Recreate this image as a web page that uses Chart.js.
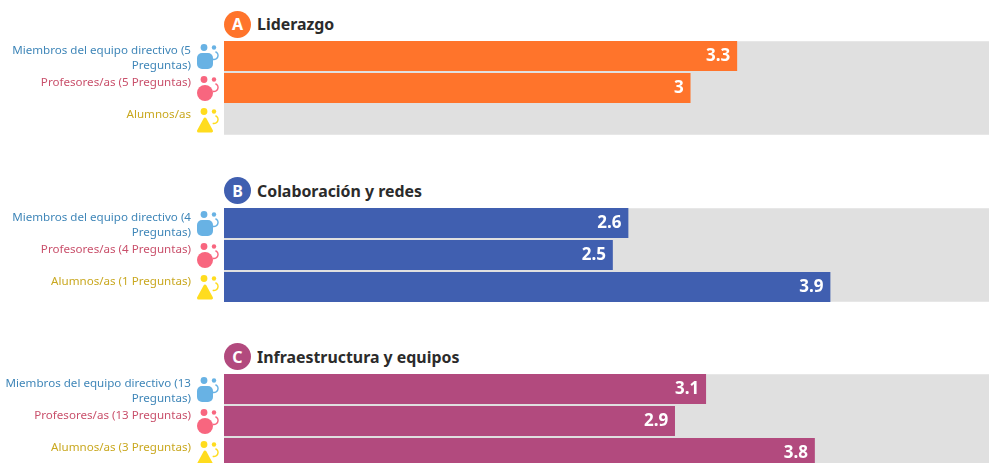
<!DOCTYPE html>
<html lang="es">
<head>
<meta charset="utf-8">
<script src="https://cdn.jsdelivr.net/npm/chart.js@4/dist/chart.umd.min.js"></script>
<style>
html,body{margin:0;padding:0;width:989px;height:463px;overflow:hidden;background:#fff;position:relative}
canvas{position:absolute;left:0}
.head{position:absolute;left:224px;height:27px;display:flex;align-items:center;font:700 15.9px "Noto Sans",sans-serif;color:#2b2b2b;white-space:nowrap}
.badge{width:27px;height:27px;border-radius:50%;color:#fff;display:flex;align-items:center;justify-content:center;font-size:16px;margin-right:6px}
</style>
</head>
<body>
<script>
const groupLetters = ["A", "B", "C"];
const groupTitles = ["Liderazgo", "Colaboración y redes", "Infraestructura y equipos"];
const groupColors = ["#FF742B", "#405FB0", "#B24A7E"];
const labelsA = [["Miembros del equipo directivo (5", "Preguntas)"], ["Profesores/as (5 Preguntas)", ""], ["Alumnos/as", ""]];
const labelsB = [["Miembros del equipo directivo (4", "Preguntas)"], ["Profesores/as (4 Preguntas)", ""], ["Alumnos/as (1 Preguntas)", ""]];
const labelsC = [["Miembros del equipo directivo (13", "Preguntas)"], ["Profesores/as (13 Preguntas)", ""], ["Alumnos/as (3 Preguntas)", ""]];
const valuesA = [3.3, 3, null];
const valuesB = [2.6, 2.5, 3.9];
const valuesC = [3.1, 2.9, 3.8];
const labelColors = ["#3F86B8", "#C9506B", "#C9A820"];
const iconColors = ["#68B2E4", "#F8667F", "#FFDC1E"];
const axisMax = 5;
const groupLabels = [labelsA, labelsB, labelsC];
const groupValues = [valuesA, valuesB, valuesC];
const chartTops = [40, 207, 373];
const headTops = [10.5, 177, 343];

function drawIcon(c, kind, x, y, color) {
  c.save();
  c.fillStyle = color; c.strokeStyle = color;
  c.beginPath(); c.arc(x + 6, y - 8.5, 3.4, 0, 7); c.fill();
  c.beginPath(); c.arc(x + 16, y - 8.5, 2.2, 0, 7); c.fill();
  c.lineWidth = 1.5;
  c.beginPath(); c.arc(x + 16, y - 0.5, 4, -1.2, 1.9); c.stroke();
  c.beginPath();
  if (kind === 0) c.roundRect(x - 1, y - 3, 16, 16, 5);
  else if (kind === 1) c.arc(x + 7, y + 5, 8, 0, 7);
  else {
    c.lineJoin = "round"; c.lineWidth = 3;
    c.moveTo(x + 7, y - 1); c.lineTo(x + 13.5, y + 11); c.lineTo(x + 0.5, y + 11); c.closePath(); c.stroke();
  }
  c.fill();
  c.restore();
}

const trackPlugin = {
  id: "track",
  beforeDatasetsDraw(chart) {
    const a = chart.chartArea, c = chart.ctx;
    c.save(); c.fillStyle = "#E0E0E0";
    c.fillRect(a.left, a.top + 1.25, a.right - a.left, a.bottom - a.top - 2.5);
    c.restore();
  }
};
const decorPlugin = {
  id: "decor",
  afterDatasetsDraw(chart) {
    const c = chart.ctx, meta = chart.getDatasetMeta(0), values = chart.data.datasets[0].data;
    meta.data.forEach((bar, i) => {
      drawIcon(c, i, 198, chart.scales.y.getPixelForTick(i), iconColors[i]);
      if (values[i] === null) return;
      c.save();
      c.fillStyle = "#fff"; c.font = '700 17px "Noto Sans",sans-serif';
      c.textAlign = "right"; c.textBaseline = "middle";
      c.fillText(String(values[i]), bar.x - 6.5, bar.y + 0.5);
      c.restore();
    });
  }
};

groupTitles.forEach((title, g) => {
  const head = document.createElement("div");
  head.className = "head"; head.style.top = headTops[g] + "px";
  const badge = document.createElement("span");
  badge.className = "badge"; badge.style.background = groupColors[g]; badge.textContent = groupLetters[g];
  head.appendChild(badge); head.appendChild(document.createTextNode(title));
  document.body.appendChild(head);

  const cv = document.createElement("canvas");
  cv.style.top = chartTops[g] + "px";
  cv.width = 1001; cv.height = 96;
  cv.style.width = "1001px"; cv.style.height = "96px";
  document.body.appendChild(cv);
  new Chart(cv, {
    type: "bar",
    plugins: [trackPlugin, decorPlugin],
    data: {
      labels: groupLabels[g],
      datasets: [{ data: groupValues[g], backgroundColor: groupColors[g], barThickness: 29.5 }]
    },
    options: {
      indexAxis: "y", responsive: false, animation: false, devicePixelRatio: 1,
      layout: { padding: 0 },
      plugins: { legend: { display: false }, tooltip: { enabled: false } },
      scales: {
        x: { display: false, min: 0, max: axisMax },
        y: {
          afterFit(s) { s.width = 224; s.paddingTop = 0; s.paddingBottom = 0; },
          border: { display: false },
          grid: { display: false, drawTicks: false },
          ticks: {
            padding: 33, autoSkip: false, labelOffset: 2.5,
            color: ctx => labelColors[ctx.index],
            font: { family: '"Noto Sans",sans-serif', size: 11.6, lineHeight: 1.3 }
          }
        }
      }
    }
  });
});
</script>
</body>
</html>
